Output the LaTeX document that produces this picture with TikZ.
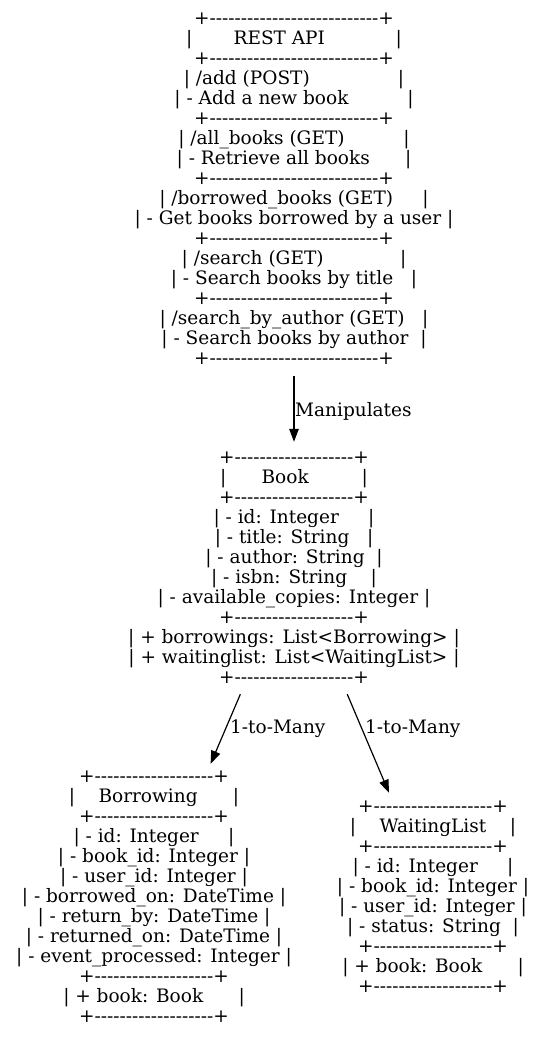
\documentclass[tikz,border=0pt]{standalone}
\usepackage{fontspec}
\setmainfont{DejaVu Serif}[Ligatures=TeXOff]
\usetikzlibrary{arrows.meta}
\newcommand\restbar{+---------------------------+}
\newcommand\clsbar{+-------------------+}
\begin{document}
\begin{tikzpicture}[x=1pt,y=-1pt,
  box/.style={align=center, inner sep=0pt, font=\fontsize{18.5}{20}\selectfont},
  lbl/.style={inner sep=0pt, font=\fontsize{18.5}{20}\selectfont},
  edge/.style={-{Triangle[length=13pt,width=9.5pt]}, line width=1.2pt}]
\useasboundingbox (0,0) rectangle (546,1039);

\node[box, minimum height=375pt] (rest) at (294,188.5) {%
\restbar\\
|~~~~~~~REST API~~~~~~~~~~~~|\\
\restbar\\
| /add (POST)~~~~~~~~~~~~~~~|\\
| - Add a new book~~~~~~~~~~|\\
\restbar\\
| /all\_books (GET)~~~~~~~~~~|\\
| - Retrieve all books~~~~~~|\\
\restbar\\
| /borrowed\_books (GET)~~~~~|\\
| - Get books borrowed by a user |\\
\restbar\\
| /search (GET)~~~~~~~~~~~~~|\\
| - Search books by title~~~|\\
\restbar\\
| /search\_by\_author (GET)~~~|\\
| - Search books by author~~|\\
\restbar};

\node[box, minimum height=252pt] (book) at (294,568) {%
\clsbar\\
|~~~~~~Book~~~~~~~~~|\\
\clsbar\\
| - id: Integer~~~~~|\\
| - title: String~~~|\\
| - author: String~~|\\
| - isbn: String~~~~|\\
| - available\_copies: Integer |\\
\clsbar\\
| + borrowings: List<Borrowing> |\\
| + waitinglist: List<WaitingList> |\\
\clsbar};

\node[box, minimum height=266pt] (borrowing) at (154,897) {%
\clsbar\\
|~~~~Borrowing~~~~~~|\\
\clsbar\\
| - id: Integer~~~~~|\\
| - book\_id: Integer |\\
| - user\_id: Integer |\\
| - borrowed\_on: DateTime |\\
| - return\_by: DateTime |\\
| - returned\_on: DateTime |\\
| - event\_processed: Integer |\\
\clsbar\\
| + book: Book~~~~~~|\\
\clsbar};

\node[box, minimum height=208pt] (waiting) at (433,897) {%
\clsbar\\
|~~~~WaitingList~~~~|\\
\clsbar\\
| - id: Integer~~~~~|\\
| - book\_id: Integer |\\
| - user\_id: Integer |\\
| - status: String~~|\\
\clsbar\\
| + book: Book~~~~~~|\\
\clsbar};

\draw[edge] (rest) -- (book);
\draw[edge] (book) -- (borrowing);
\draw[edge] (book) -- (waiting);

\node[lbl, anchor=base west] (l1) at (295,416.5) {Manipulates};
\node[lbl, anchor=base west] (l2) at (230,733) {1-to-Many};
\node[lbl, anchor=base west] (l3) at (365,733) {1-to-Many};
\end{tikzpicture}
\end{document}
